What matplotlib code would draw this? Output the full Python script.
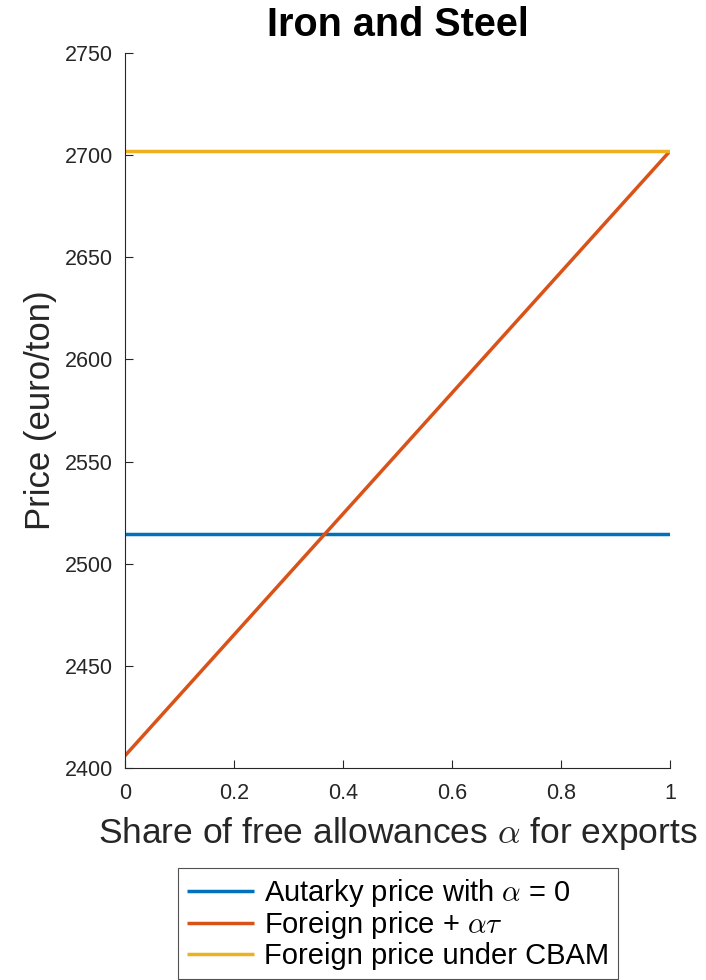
import matplotlib
matplotlib.use("Agg")
import matplotlib.pyplot as plt

plt.rcParams["font.family"] = ["Liberation Sans", "DejaVu Sans"]
plt.rcParams["mathtext.fontset"] = "cm"

# share of free allowances for exports
alpha = [0.0, 1.0]
autarky_price = [2514.7, 2514.7]
foreign_plus_alpha_tau = [2406.0, 2702.0]
cbam_price = [2702.0, 2702.0]

series_labels = [
    r"Autarky price with $\alpha$ = 0",
    r"Foreign price + $\alpha\tau$",
    "Foreign price under CBAM",
]
series_colors = ["#0072BD", "#D95319", "#EDB120"]

yticks = [2400, 2450, 2500, 2550, 2600, 2650, 2700, 2750]
xticks = [0, 0.2, 0.4, 0.6, 0.8, 1]
xticklabels = ["0", "0.2", "0.4", "0.6", "0.8", "1"]

W, H = 706, 980
fig = plt.figure(figsize=(W / 100, H / 100), dpi=100)
ax = fig.add_axes([125 / W, 1 - 768 / H, 545 / W, 715 / H])

for ys, lab, col in zip([autarky_price, foreign_plus_alpha_tau, cbam_price],
                        series_labels, series_colors):
    ax.plot(alpha, ys, color=col, lw=2.5, label=lab, solid_capstyle="butt")

ax.set_xlim(0, 1)
ax.set_ylim(2400, 2750)
ax.set_yticks(yticks)
ax.set_xticks(xticks)
ax.set_xticklabels(xticklabels)

axis_col = "#262626"
for side in ["top", "right"]:
    ax.spines[side].set_visible(False)
for side in ["left", "bottom"]:
    ax.spines[side].set_color(axis_col)
    ax.spines[side].set_linewidth(0.8)
ax.tick_params(direction="in", length=6, width=0.8, colors=axis_col,
               labelsize=15.5)
ax.tick_params(axis="x", pad=11)
ax.tick_params(axis="y", pad=8.5)

ax.set_xlabel(r"Share of free allowances $\alpha$ for exports",
              fontsize=25.5, color=axis_col, labelpad=8)
ax.set_ylabel("Price (euro/ton)", fontsize=25, color=axis_col, labelpad=6)
ax.set_title("Iron and Steel", fontsize=28.5, fontweight="bold", pad=12)

handles, labels = ax.get_legend_handles_labels()
leg = fig.legend(handles, labels, loc="upper center",
                 bbox_to_anchor=(398 / W, 1 - 868 / H),
                 fontsize=21, frameon=True, fancybox=False,
                 edgecolor="#262626", handlelength=2.3, handletextpad=0.35,
                 labelspacing=0.02, borderpad=0.3, borderaxespad=0)
leg.get_frame().set_linewidth(0.8)

fig.savefig("out.png", dpi=100)
